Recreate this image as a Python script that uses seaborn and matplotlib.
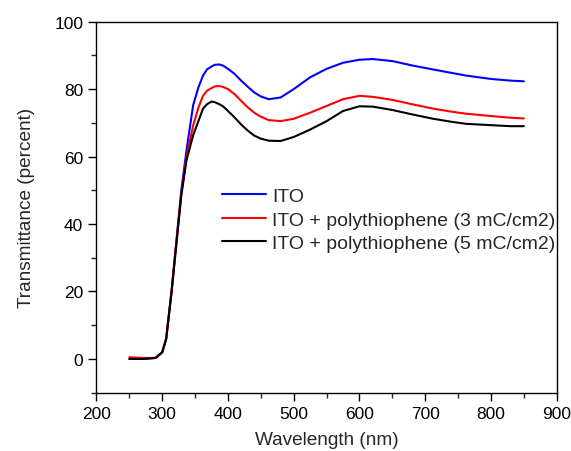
import numpy as np
import pandas as pd
import seaborn as sns
import matplotlib.pyplot as plt
from matplotlib.ticker import MultipleLocator

# Wavelength grid (nm) and transmittance (%)
wavelength = [250, 270, 290, 300, 306, 314, 322, 329, 337, 347, 355, 362, 368, 375, 380,
              387, 393, 400, 410, 420, 430, 440, 450, 462, 480, 500, 525, 550, 575, 600,
              620, 650, 680, 712, 740, 762, 800, 830, 850]
ito = [0.0, 0.0, 0.3, 2.0, 6.0, 20.0, 36.0, 50.0, 62.0, 75.2, 80.5, 84.0, 85.8, 86.7, 87.2,
       87.3, 86.9, 86.0, 84.5, 82.5, 80.7, 79.0, 77.8, 77.0, 77.5, 80.0, 83.5, 86.0, 87.8, 88.7,
       88.9, 88.3, 87.0, 85.8, 84.8, 84.0, 83.0, 82.5, 82.3]
ito_pt3 = [0.5, 0.3, 0.3, 2.0, 6.0, 19.5, 35.5, 49.0, 60.0, 69.2, 74.5, 78.0, 79.5, 80.3, 80.8,
           80.9, 80.6, 80.0, 78.5, 76.5, 74.6, 73.0, 71.8, 70.8, 70.5, 71.2, 73.0, 75.0, 77.0, 78.0,
           77.7, 76.8, 75.5, 74.2, 73.3, 72.7, 72.0, 71.5, 71.3]
ito_pt5 = [0.0, 0.0, 0.3, 2.0, 6.0, 19.5, 35.0, 48.5, 59.0, 66.3, 70.5, 74.2, 75.5, 76.3, 76.1,
           75.5, 74.8, 73.5, 71.6, 69.5, 67.7, 66.2, 65.3, 64.7, 64.6, 65.8, 68.0, 70.5, 73.5, 74.9,
           74.8, 73.8, 72.5, 71.2, 70.3, 69.7, 69.3, 69.0, 69.0]
labels = ["ITO", "ITO + polythiophene (3 mC/cm2)", "ITO + polythiophene (5 mC/cm2)"]
colors = ["#0000ff", "#ff0000", "#000000"]

frames = []
for lab, vals in zip(labels, [ito, ito_pt3, ito_pt5]):
    frames.append(pd.DataFrame({"Wavelength": wavelength, "T": vals, "Sample": lab}))
df = pd.concat(frames, ignore_index=True)

sns.set_style("ticks")
plt.rcParams["font.family"] = ["Liberation Sans", "DejaVu Sans"]

fig = plt.figure(figsize=(5.71, 4.52), dpi=100)
ax = fig.add_axes([0.169, 0.129, 0.806, 0.821])

sns.lineplot(data=df, x="Wavelength", y="T", hue="Sample", hue_order=labels,
             palette=colors, linewidth=1.5, ax=ax, sort=False)

ax.set_xlim(200, 900)
ax.set_ylim(-10, 100)
ax.xaxis.set_major_locator(MultipleLocator(100))
ax.xaxis.set_minor_locator(MultipleLocator(50))
ax.yaxis.set_major_locator(MultipleLocator(20))
ax.yaxis.set_minor_locator(MultipleLocator(10))
ax.tick_params(which="major", direction="out", length=6, width=1, labelsize=12.5,
               top=False, right=False, colors="black")
ax.tick_params(which="minor", direction="out", length=3.5, width=1, top=False, right=False)
for s in ax.spines.values():
    s.set_visible(True)
    s.set_linewidth(1)
    s.set_color("black")

ax.set_xlabel("Wavelength (nm)", fontsize=13.7, labelpad=7)
ax.set_ylabel("Transmittance (percent)", fontsize=13.7, labelpad=14)

leg = ax.legend(loc="upper left", bbox_to_anchor=(0.255, 0.574), frameon=False,
                fontsize=14, handlelength=2.3, handletextpad=0.3, labelspacing=0.3,
                borderaxespad=0)

fig.savefig("out.png", dpi=100)
